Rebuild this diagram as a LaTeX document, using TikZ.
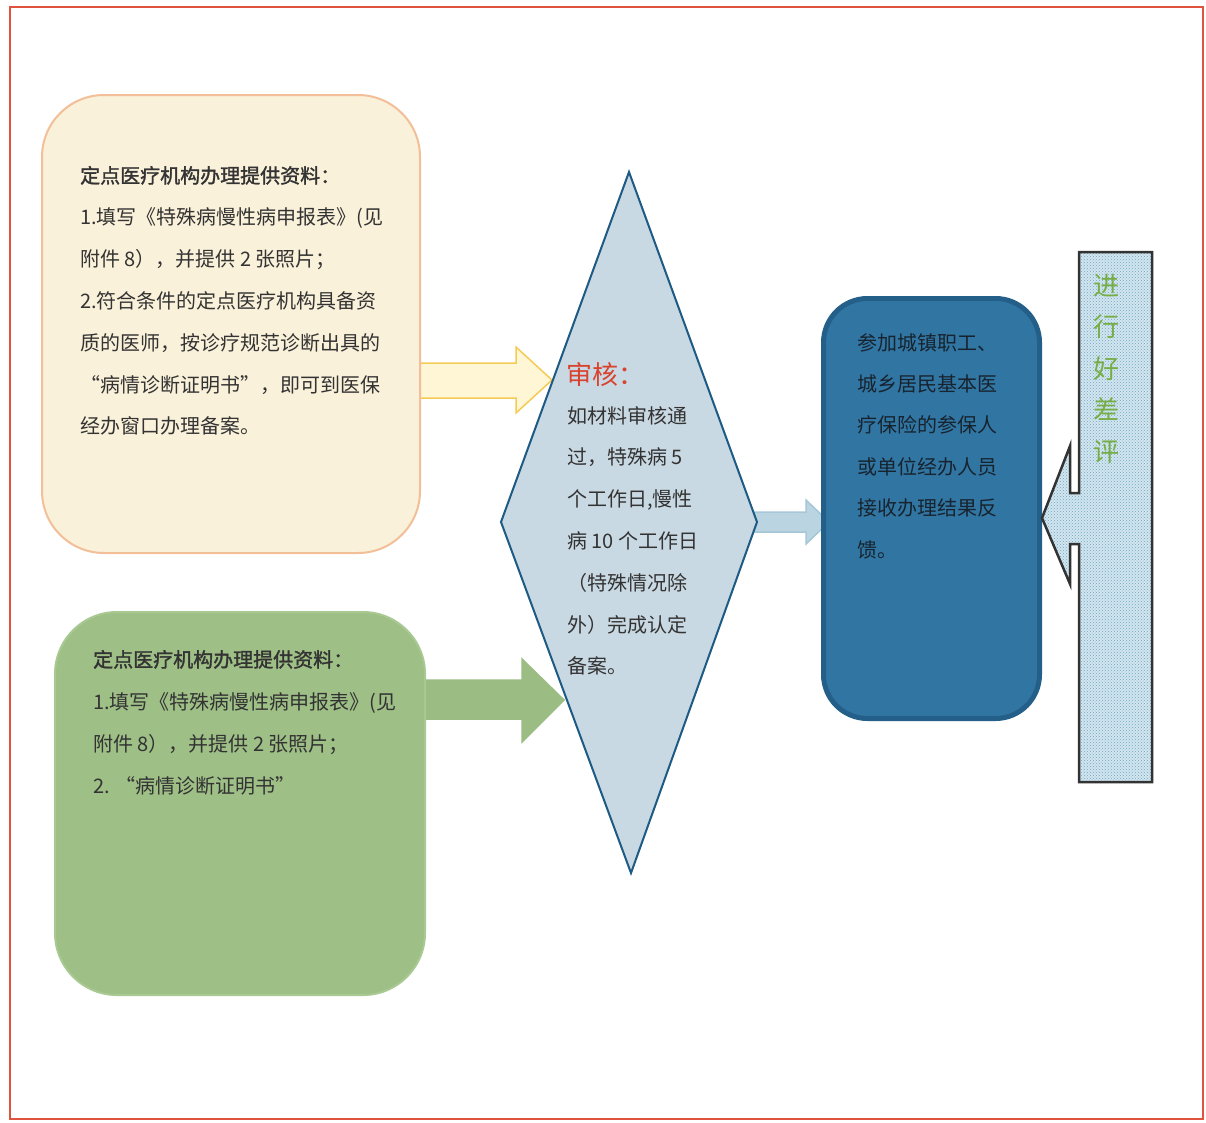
\documentclass[tikz,border=0pt]{standalone}
\usepackage{fontspec}
\setmainfont{Noto Sans CJK SC}
\newfontfamily\cjkbold[FakeBold=1.5]{Noto Sans CJK SC}
\usetikzlibrary{patterns}
\definecolor{framered}{HTML}{E0533F}
\definecolor{yfill}{HTML}{FAF1DA}
\definecolor{ydraw}{HTML}{F2BF98}
\definecolor{yafill}{HTML}{FEF6D4}
\definecolor{yadraw}{HTML}{F4CC55}
\definecolor{gfill}{HTML}{9EBF86}
\definecolor{gdraw}{HTML}{A9C993}
\definecolor{gafill}{HTML}{9BBC82}
\definecolor{dfill}{HTML}{C9D9E3}
\definecolor{ddraw}{HTML}{1D5A84}
\definecolor{bafill}{HTML}{BAD5E1}
\definecolor{badraw}{HTML}{A5C7D7}
\definecolor{bfill}{HTML}{3176A3}
\definecolor{bdraw}{HTML}{245F8A}
\definecolor{pfill}{HTML}{D3E6EF}
\definecolor{pdots}{HTML}{6FA6C2}
\definecolor{pdraw}{HTML}{333333}
\definecolor{vgreen}{HTML}{76AD45}
\definecolor{shred}{HTML}{D9432E}
\definecolor{txtgray}{HTML}{333333}
\definecolor{txtdark}{HTML}{17232E}
\begin{document}
\begin{tikzpicture}[x=1pt,y=-1pt,
  roundbox/.style={rectangle,inner sep=0pt,line width=2pt},
  txt/.style={anchor=base west,inner sep=0pt,text=txtgray},
  blockarrow/.style={line width=1.5pt,line join=miter}]
\useasboundingbox (0,0) rectangle (1206,1122);
\fill[white] (0,0) rectangle (1206,1122);
\draw[framered,line width=2.5pt] (10,7) rectangle (1203,1119);

% coordinates of the diamond
\coordinate (dt) at (629,172);
\coordinate (db) at (631,873);
\coordinate (dl) at (501,522);
\coordinate (dr) at (757,522);

% block arrows (drawn first, boxes over their tails)
\draw[blockarrow,fill=yafill,draw=yadraw] (410,363) -- (516,363) -- (516,347) -- (552,380) -- (516,413) -- (516,398) -- (410,398) -- cycle;
\draw[blockarrow,fill=gafill,draw=gafill] (410,680) -- (522,680) -- (522,659) -- (564,700) -- (522,742) -- (522,719) -- (410,719) -- cycle;
\draw[blockarrow,fill=bafill,draw=badraw] (750,512) -- (806,512) -- (806,500) -- (829,522) -- (806,544) -- (806,532) -- (750,532) -- cycle;

% boxes
\node[roundbox,fill=yfill,draw=ydraw,minimum width=378pt,minimum height=458pt,rounded corners=62pt] (yb) at (231,324) {};
\node[roundbox,fill=gfill,draw=gdraw,minimum width=370pt,minimum height=383pt,rounded corners=62pt] (gb) at (240,803.5) {};
\draw[line width=2pt,fill=dfill,draw=ddraw,line join=miter] (dt) -- (dr) -- (db) -- (dl) -- cycle;
\node[roundbox,fill=bfill,draw=bdraw,line width=5pt,minimum width=216pt,minimum height=420pt,rounded corners=44pt] (bb) at (931.5,508.5) {};

% right panel with left-pointing arrow
\path[fill=pfill] (1079,252) -- (1152,252) -- (1152,782) -- (1079,782) -- (1079,544) -- (1070,544) -- (1070,584) -- (1042,518) -- (1070,446) -- (1070,493) -- (1079,493) -- cycle;
\path[pattern=crosshatch dots,pattern color=pdots] (1079,252) -- (1152,252) -- (1152,782) -- (1079,782) -- (1079,544) -- (1070,544) -- (1070,584) -- (1042,518) -- (1070,446) -- (1070,493) -- (1079,493) -- cycle;
\draw[pdraw,line width=2.5pt,line join=miter] (1079,252) -- (1152,252) -- (1152,782) -- (1079,782) -- (1079,544) -- (1070,544) -- (1070,584) -- (1042,518) -- (1070,446) -- (1070,493) -- (1079,493) -- cycle;
\coordinate (ptip) at (1042,518);

% texts
\node[txt] (yt) at (80,183) {\parbox[t]{420pt}{\fontsize{20}{41.8}\selectfont
{\cjkbold 定点医疗机构办理提供资料：}\\
1.填写《特殊病慢性病申报表》(见\\
附件 8），并提供 2 张照片；\\
2.符合条件的定点医疗机构具备资\\
质的医师，按诊疗规范诊断出具的\\
“病情诊断证明书”，即可到医保\\
经办窗口办理备案。}};

\node[txt] (gt) at (93,667) {\parbox[t]{420pt}{\fontsize{20}{42}\selectfont
{\cjkbold 定点医疗机构办理提供资料：}\\
1.填写《特殊病慢性病申报表》(见\\
附件 8），并提供 2 张照片；\\
2. “病情诊断证明书”}};

\node[txt,text=shred] (sh) at (566,384) {\fontsize{26}{30}\selectfont 审核：};
\node[txt] (dtxt) at (567,423) {\parbox[t]{300pt}{\fontsize{20}{41.8}\selectfont
如材料审核通\\
过，特殊病 5\\
个工作日,慢性\\
病 10 个工作日\\
（特殊情况除\\
外）完成认定\\
备案。}};

\node[txt,text=txtdark] (bt) at (857,350) {\parbox[t]{300pt}{\fontsize{20}{41.4}\selectfont
参加城镇职工、\\
城乡居民基本医\\
疗保险的参保人\\
或单位经办人员\\
接收办理结果反\\
馈。}};

\node[anchor=base,inner sep=0pt,text=vgreen] (pv) at (1106,295) {\parbox[t]{40pt}{\centering\fontsize{26}{41.5}\selectfont
进\\行\\好\\差\\评}};
\end{tikzpicture}
\end{document}
